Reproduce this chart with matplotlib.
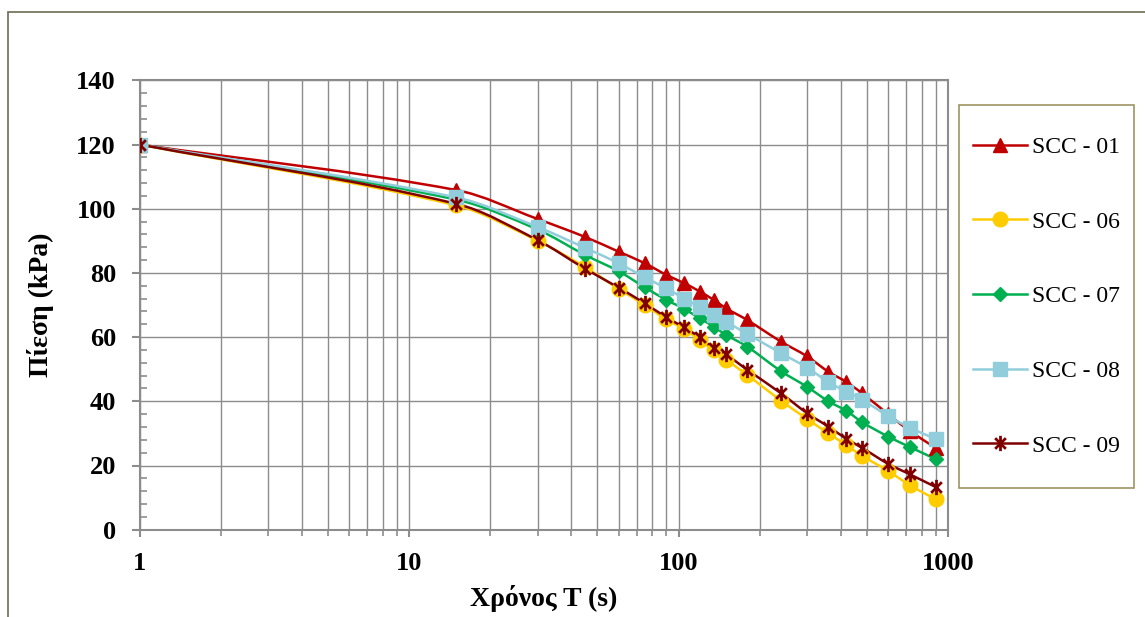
import numpy as np
import matplotlib
matplotlib.use("Agg")
import matplotlib.pyplot as plt
from matplotlib.path import Path
from matplotlib.patches import PathPatch, Rectangle
from matplotlib.lines import Line2D
from matplotlib.ticker import FixedLocator, MultipleLocator, NullFormatter

plt.rcParams['font.family'] = ['Liberation Serif', 'DejaVu Serif']

# time (s) and pressure (kPa) per mix
t = [1, 15, 30, 45, 60, 75, 90, 105, 120, 135, 150, 180, 240, 300, 360, 420, 480, 600, 720, 900]
scc01 = [120, 105.8, 96.8, 91.2, 86.6, 83.0, 79.4, 76.8, 74.2, 71.6, 69.0, 65.3, 58.6, 54.0, 49.2, 46.0, 42.5, 36.0, 30.8, 25.5]
scc06 = [120, 101.0, 90.0, 81.8, 75.0, 70.0, 65.5, 62.5, 59.0, 56.0, 53.0, 48.2, 40.2, 34.5, 30.0, 26.3, 23.0, 18.3, 13.9, 9.5]
scc07 = [120, 102.8, 93.5, 85.6, 80.5, 75.5, 71.6, 68.8, 65.8, 63.3, 60.7, 57.0, 49.4, 44.5, 40.0, 37.0, 33.5, 29.0, 25.8, 22.0]
scc08 = [120, 103.5, 94.3, 87.8, 83.0, 78.6, 75.2, 72.0, 69.3, 67.0, 64.8, 61.0, 55.0, 50.5, 46.0, 43.0, 40.5, 35.4, 31.8, 28.3]
scc09 = [120, 101.5, 90.2, 81.3, 75.4, 70.5, 66.2, 63.0, 59.9, 56.5, 54.6, 49.8, 42.5, 36.3, 32.1, 28.3, 25.5, 20.5, 17.3, 13.3]

labels = ["SCC - 01", "SCC - 06", "SCC - 07", "SCC - 08", "SCC - 09"]

# asterisk marker like Excel's: X with a vertical bar
star = Path([(0, -1), (0, 1), (-0.7, -0.7), (0.7, 0.7), (-0.7, 0.7), (0.7, -0.7)],
            [Path.MOVETO, Path.LINETO, Path.MOVETO, Path.LINETO, Path.MOVETO, Path.LINETO])

styles = [
    dict(color="#C00000", marker="^", ms=10),
    dict(color="#FFCC00", marker="o", ms=10.5),
    dict(color="#00B050", marker="D", ms=7.5),
    dict(color="#92CDDC", marker="s", ms=10),
    dict(color="#800000", marker=star, ms=11),
]


def smooth_path(x, y):
    """Smooth cubic through the points in log-x space (monotone in x, no loops)."""
    u = np.log10(np.asarray(x, float))
    v = np.asarray(y, float)
    n = len(u)
    m = np.empty(n)
    m[0] = (v[1] - v[0]) / (u[1] - u[0])
    m[-1] = (v[-1] - v[-2]) / (u[-1] - u[-2])
    m[1:-1] = (v[2:] - v[:-2]) / (u[2:] - u[:-2])
    verts = [(x[0], y[0])]
    codes = [Path.MOVETO]
    for i in range(n - 1):
        h = (u[i + 1] - u[i]) / 3
        c1 = (u[i] + h, v[i] + m[i] * h)
        c2 = (u[i + 1] - h, v[i + 1] - m[i + 1] * h)
        verts += [(10 ** c1[0], c1[1]), (10 ** c2[0], c2[1]), (x[i + 1], y[i + 1])]
        codes += [Path.CURVE4] * 3
    return Path(verts, codes)


W, H = 1145, 617
fig = plt.figure(figsize=(W / 100, H / 100), dpi=100)
ax = fig.add_axes([139.5 / W, 1 - 529.7 / H, (948 - 139.5) / W, (529.7 - 80.3) / H])

ax.set_xscale("log")
ax.set_xlim(1, 1000)
ax.set_ylim(0, 140)

handles = []
for ys, st, lab in zip([scc01, scc06, scc07, scc08, scc09], styles, labels):
    is_star = st["marker"] is star
    patch = PathPatch(smooth_path(t, ys), fill=False, edgecolor=st["color"], lw=1.8,
                      transform=ax.transData, zorder=3)
    ax.add_patch(patch)
    ax.plot(t, ys, ls="none", marker=st["marker"], ms=st["ms"],
            mfc="none" if is_star else st["color"], mec=st["color"],
            mew=2.0 if is_star else 1.0, zorder=4)
    handles.append(Line2D([], [], color=st["color"], lw=1.8, marker=st["marker"],
                          ms=st["ms"], mfc="none" if is_star else st["color"],
                          mec=st["color"], mew=2.0 if is_star else 1.0))

# grid + ticks
gridc = "#8c8c8c"
ax.yaxis.set_major_locator(MultipleLocator(20))
ax.yaxis.set_minor_locator(MultipleLocator(4))
ax.xaxis.set_major_locator(FixedLocator([1, 10, 100, 1000]))
ax.xaxis.set_minor_locator(FixedLocator([k * d for d in (1, 10, 100) for k in range(2, 10)]))
ax.xaxis.set_minor_formatter(NullFormatter())
ax.set_xticklabels(["1", "10", "100", "1000"])
ax.grid(True, which="major", axis="both", color=gridc, lw=1.0, zorder=0)
ax.grid(True, which="minor", axis="x", color=gridc, lw=1.0, zorder=0)
ax.set_axisbelow(True)

for s in ax.spines.values():
    s.set_color(gridc)
    s.set_linewidth(1.5)

ax.tick_params(axis="y", which="major", direction="out", length=6, width=1.5, color=gridc,
               pad=11, labelsize=19)
ax.tick_params(axis="y", which="minor", direction="in", length=5, width=1.2, color=gridc)
ax.tick_params(axis="x", which="major", direction="out", length=5, width=1.5, color=gridc,
               pad=11, labelsize=19)
ax.tick_params(axis="x", which="minor", direction="out", length=4, width=1.2, color=gridc)
for lbl in ax.get_xticklabels() + ax.get_yticklabels():
    lbl.set_fontweight("bold")

fig.text(40 / W, 1 - 305 / H, "Πίεση (kPa)", rotation=90, ha="center", va="center",
         fontsize=20, fontweight="bold")
fig.text(544 / W, 1 - 598 / H, "Χρόνος T (s)", ha="center", va="center",
         fontsize=20, fontweight="bold")

# legend box
fig.patches.append(Rectangle((959 / W, 1 - 488 / H), 175 / W, 383 / H, transform=fig.transFigure,
                             fill=False, edgecolor="#9d9563", lw=1.2))
fig.legend(handles, labels, loc="center left", bbox_to_anchor=(973 / W, 1 - 296.5 / H),
           frameon=False, fontsize=17, handlelength=2.3, handletextpad=0.2,
           labelspacing=2.25, borderpad=0, borderaxespad=0)

# outer chart border
fig.patches.append(Rectangle((8 / W, -0.1), 1.2, 1.1 - 12 / H, transform=fig.transFigure,
                             fill=False, edgecolor="#6e6b55", lw=1.2))

fig.savefig("out.png", dpi=100)
